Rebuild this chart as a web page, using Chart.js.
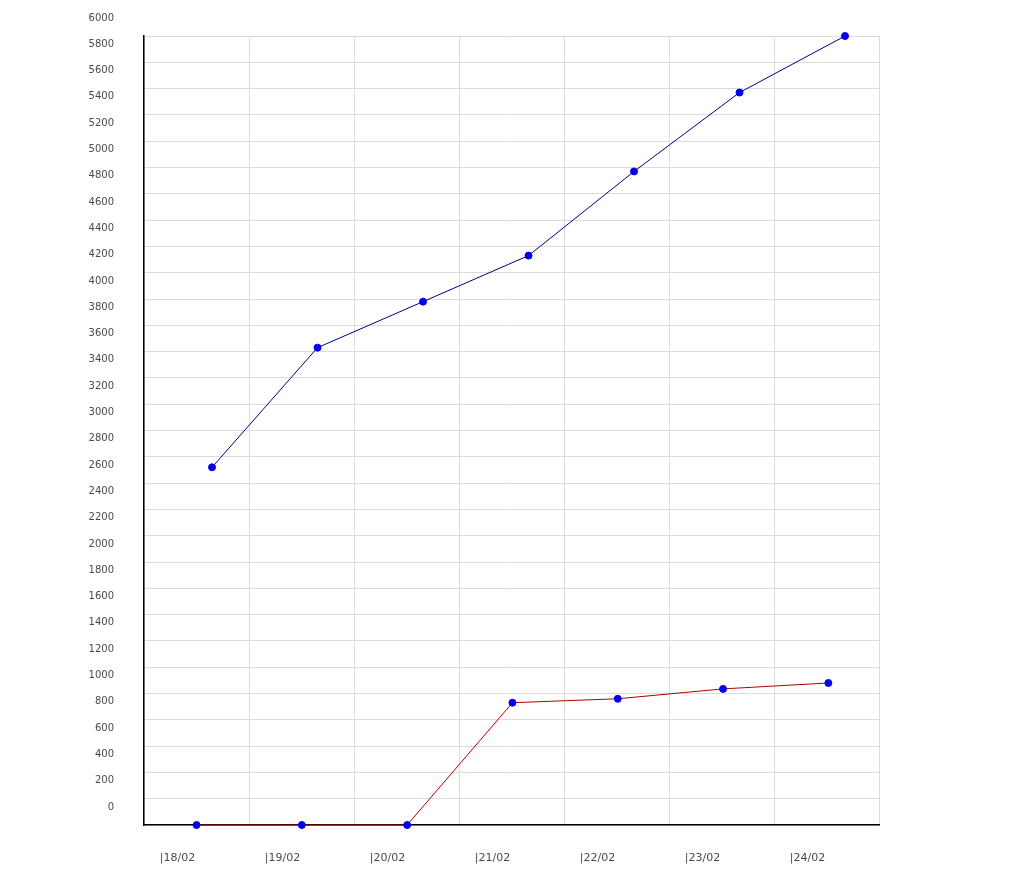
<!DOCTYPE html>
<html>
<head>
<meta charset="utf-8">
<script src="https://cdn.jsdelivr.net/npm/chart.js@4/dist/chart.umd.min.js"></script>
<style>
html,body{margin:0;padding:0;background:#fff;}
#wrap{width:1024px;height:894px;position:relative;}
</style>
</head>
<body>
<div id="wrap"><canvas id="c"></canvas></div>
<script>
const categories = ['|18/02', '|19/02', '|20/02', '|21/02', '|22/02', '|23/02', '|24/02'];
const totalValues = [2720, 3630, 3980, 4330, 4970, 5570, 6000];
const newValues = [0, 0, 0, 930, 960, 1035, 1080];
const yMin = 0, yMax = 6000, yStep = 200;

const textColor = '#4a4a4a';
const gridColor = '#dcdcdc';

const toXY = arr => arr.map((v, i) => ({x: i, y: v}));

new Chart(document.getElementById('c'), {
  type: 'line',
  data: {
    labels: categories,
    datasets: [
      {
        label: 'total',
        data: toXY(totalValues),
        xAxisID: 'xBlue',
        borderColor: '#000080',
        borderWidth: 1,
        pointBackgroundColor: '#0000ee',
        pointBorderColor: '#0000ee',
        pointRadius: 3.5,
        pointBorderWidth: 1,
        tension: 0,
        fill: false,
        clip: false
      },
      {
        label: 'new',
        data: toXY(newValues),
        xAxisID: 'xRed',
        borderColor: '#b00000',
        borderWidth: 1,
        pointBackgroundColor: '#0000ee',
        pointBorderColor: '#0000ee',
        pointRadius: 3.5,
        pointBorderWidth: 1,
        tension: 0,
        fill: false,
        clip: false
      }
    ]
  },
  options: {
    responsive: true,
    maintainAspectRatio: false,
    animation: false,
    layout: {padding: {left: 0, right: 145, top: 36, bottom: 0}},
    plugins: {legend: {display: false}, tooltip: {enabled: false}},
    scales: {
      x: {
        type: 'category',
        offset: true,
        grid: {color: gridColor, offset: true, drawTicks: false},
        border: {color: '#000000', width: 1.5},
        ticks: {font: {family: 'DejaVu Sans', size: 11}, color: textColor, padding: 27, labelOffset: -19, maxRotation: 0, autoSkip: false},
        afterFit: s => { s.height = 69; }
      },
      xBlue: {
        type: 'linear',
        display: false,
        min: -0.645,
        max: 6.322
      },
      xRed: {
        type: 'linear',
        display: false,
        min: -0.499,
        max: 6.481
      },
      y: {
        min: yMin,
        max: yMax,
        grid: {color: gridColor, drawTicks: false},
        border: {color: '#000000', width: 1.5},
        ticks: {
          stepSize: yStep,
          font: {family: 'DejaVu Sans', size: 10},
          color: textColor,
          padding: 30,
          labelOffset: -18,
          autoSkip: false,
          callback: v => String(v)
        },
        afterFit: s => { s.width = 144; }
      }
    }
  }
});
</script>
</body>
</html>
